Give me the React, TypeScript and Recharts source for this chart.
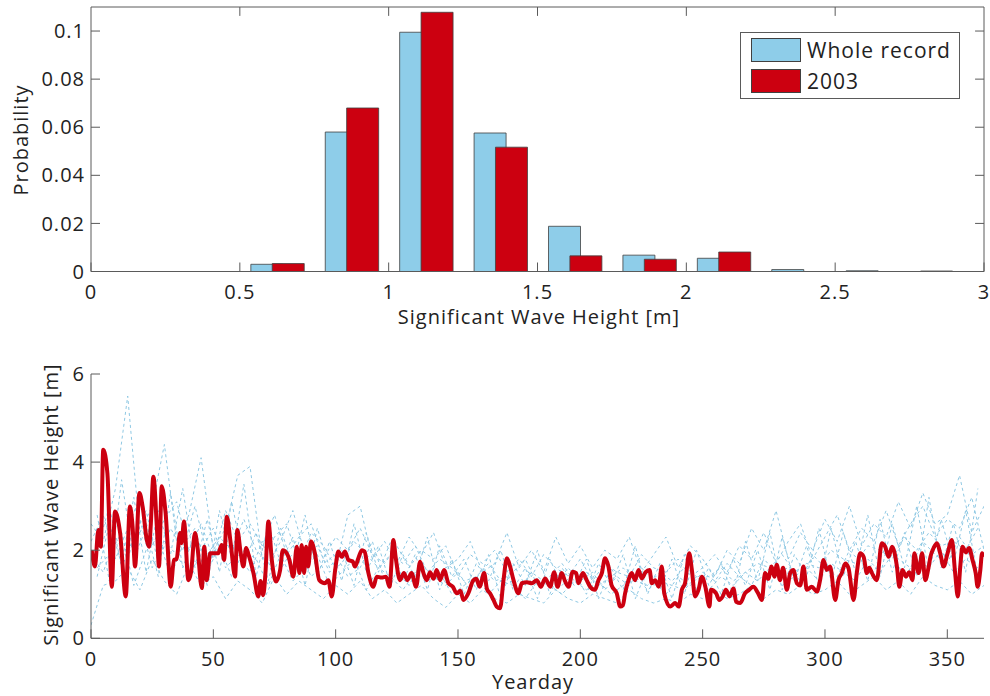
import React from 'react';
import { BarChart, Bar, XAxis, YAxis, LineChart, Line, Legend, Label, ReferenceLine } from 'recharts';

// ---------------- Histogram data (top panel) ----------------
const BIN_CENTERS = [0.625, 0.875, 1.125, 1.375, 1.625, 1.875, 2.125, 2.375, 2.625, 2.875];
const PROB_WHOLE = [0.003, 0.058, 0.0995, 0.0576, 0.0188, 0.0068, 0.0055, 0.0008, 0.0003, 0.0002];
const PROB_2003 = [0.0033, 0.068, 0.1078, 0.0517, 0.0065, 0.0051, 0.0081, 0, 0, 0];
const HIST_X_TICKS = [0, 0.5, 1, 1.5, 2, 2.5, 3];
const HIST_Y_TICKS = [0, 0.02, 0.04, 0.06, 0.08, 0.1];
const HIST_X_MAX = 3;
const HIST_Y_MAX = 0.11;

// ---------------- Time series data (bottom panel) ----------------
const YEARDAY_TICKS = [0, 50, 100, 150, 200, 250, 300, 350];
const HS_TICKS = [0, 2, 4, 6];

const BG_DAYS = [
  0, 5, 10, 15, 20, 25, 30, 35, 40, 45,
  50, 55, 60, 65, 70, 75, 80, 85, 90, 95,
  100, 105, 110, 115, 120, 125, 130, 135, 140, 145,
  150, 155, 160, 165, 170, 175, 180, 185, 190, 195,
  200, 205, 210, 215, 220, 225, 230, 235, 240, 245,
  250, 255, 260, 265, 270, 275, 280, 285, 290, 295,
  300, 305, 310, 315, 320, 325, 330, 335, 340, 345,
  350, 355, 360, 365,
];
const BG_DAYS_MID = [
  2.5, 7.5, 12.5, 17.5, 22.5, 27.5, 32.5, 37.5, 42.5, 47.5,
  52.5, 57.5, 62.5, 67.5, 72.5, 77.5, 82.5, 87.5, 92.5, 97.5,
  102.5, 107.5, 112.5, 117.5, 122.5, 127.5, 132.5, 137.5, 142.5, 147.5,
  152.5, 157.5, 162.5, 167.5, 172.5, 177.5, 182.5, 187.5, 192.5, 197.5,
  202.5, 207.5, 212.5, 217.5, 222.5, 227.5, 232.5, 237.5, 242.5, 247.5,
  252.5, 257.5, 262.5, 267.5, 272.5, 277.5, 282.5, 287.5, 292.5, 297.5,
  302.5, 307.5, 312.5, 317.5, 322.5, 327.5, 332.5, 337.5, 342.5, 347.5,
  352.5, 357.5, 362.5,
];
const BG_YEAR_A = [
  2.6, 2.2, 3.4, 5.5, 2.4, 3.0, 4.4, 2.2, 2.8, 4.1,
  2.0, 2.5, 3.7, 3.9, 1.8, 2.3, 2.6, 1.7, 2.4, 2.1,
  1.6, 2.8, 3.0, 1.8, 2.2, 1.7, 2.3, 1.9, 2.4, 1.6,
  1.8, 2.2, 1.5, 1.7, 2.4, 1.6, 2.0, 1.5, 2.3, 1.7,
  2.1, 1.6, 2.0, 1.8, 2.3, 1.5, 1.9, 2.3, 1.6, 2.1,
  1.8, 1.4, 2.0, 1.7, 2.5, 2.0, 2.9, 1.8, 2.4, 2.0,
  2.7, 2.2, 3.0, 2.1, 2.6, 2.3, 3.1, 2.5, 3.3, 2.6,
  2.8, 3.7, 2.4, 3.0,
];
const BG_YEAR_B = [
  1.9, 1.5, 2.3, 1.8, 2.7, 1.6, 2.2, 1.9, 1.4, 2.0,
  2.5, 1.6, 1.9, 1.5, 2.2, 1.3, 1.8, 2.0, 1.4, 1.7,
  1.9, 1.4, 1.6, 2.2, 1.3, 1.5, 1.2, 1.7, 1.4, 1.2,
  1.5, 1.1, 1.6, 1.3, 1.4, 1.1, 1.5, 1.3, 1.2, 1.6,
  1.3, 1.5, 1.1, 1.4, 1.2, 1.6, 1.3, 1.0, 1.4, 1.2,
  1.5, 1.3, 1.7, 1.4, 1.2, 1.8, 1.5, 1.6, 1.3, 1.9,
  1.6, 1.4, 2.0, 1.7, 1.5, 2.1, 1.8, 1.6, 2.2, 1.9,
  1.7, 2.3, 1.9, 2.1,
];
const BG_YEAR_C = [
  0.3, 1.2, 1.3, 1.6, 1.1, 1.8, 1.3, 1.0, 1.7, 1.2,
  1.4, 0.9, 1.3, 1.1, 0.8, 1.4, 1.0, 1.3, 1.1, 0.9,
  1.2, 1.0, 1.3, 0.9, 1.1, 0.8, 1.0, 1.2, 0.9, 0.7,
  1.0, 0.8, 1.1, 0.9, 0.8, 1.0, 0.9, 0.8, 1.1, 0.9,
  0.8, 1.0, 0.9, 0.8, 1.1, 0.9, 0.8, 0.9, 0.8, 1.0,
  0.9, 1.1, 0.9, 1.0, 1.2, 0.9, 1.1, 1.0, 1.2, 1.0,
  1.1, 1.3, 1.0, 1.2, 1.4, 1.1, 1.3, 1.0, 1.4, 1.2,
  1.1, 1.3, 1.0, 1.2,
];
const BG_YEAR_D = [
  2.2, 2.8, 1.8, 2.5, 3.2, 2.1, 2.7, 3.1, 2.0, 2.6,
  1.8, 2.9, 2.2, 2.6, 2.1, 2.8, 1.9, 2.3, 2.6, 1.8,
  2.3, 2.0, 2.5, 1.9, 1.7, 2.1, 1.6, 2.0, 1.8, 2.1,
  1.4, 1.9, 1.7, 2.0, 1.5, 1.8, 1.4, 1.9, 1.6, 1.4,
  1.8, 1.3, 1.7, 1.5, 1.4, 1.9, 1.6, 1.5, 1.8, 1.4,
  1.6, 1.9, 1.5, 2.1, 1.8, 2.4, 1.7, 2.2, 2.6, 1.8,
  2.3, 2.8, 2.0, 2.5, 2.2, 2.9, 2.1, 2.6, 3.0, 2.3,
  2.7, 2.5, 3.2, 2.0,
];
const BG_YEAR_E = [
  1.4, 2.6, 1.7, 3.2, 1.5, 2.9, 1.9, 3.4, 1.6, 2.7,
  1.5, 3.1, 1.7, 2.4, 1.3, 2.5, 1.6, 2.8, 1.4, 2.2,
  1.3, 2.6, 1.5, 2.1, 1.2, 1.9, 1.4, 2.3, 1.1, 1.8,
  1.0, 1.7, 1.3, 2.0, 1.1, 1.6, 0.9, 1.8, 1.2, 1.5,
  1.0, 1.7, 1.2, 1.9, 0.9, 1.6, 1.1, 1.8, 1.0, 2.0,
  1.2, 1.7, 1.0, 2.2, 1.3, 2.4, 1.1, 1.9, 1.4, 2.5,
  1.3, 2.4, 1.5, 2.8, 1.4, 2.6, 1.6, 3.0, 1.5, 2.7,
  1.7, 2.9, 1.4,
];
const BG_YEAR_F = [
  2.8, 1.3, 3.6, 1.8, 2.5, 1.4, 3.3, 1.6, 2.4, 1.2,
  2.9, 1.8, 3.5, 1.4, 2.6, 1.7, 2.3, 1.2, 2.5, 1.6,
  2.0, 1.2, 2.4, 1.5, 2.2, 1.3, 1.9, 1.1, 2.1, 1.4,
  1.8, 1.1, 1.9, 0.9, 1.7, 1.2, 2.0, 1.0, 1.6, 1.2,
  1.8, 0.9, 1.6, 1.1, 2.1, 1.0, 1.7, 0.9, 1.9, 1.1,
  1.6, 1.0, 1.8, 1.2, 2.0, 1.1, 2.3, 1.3, 2.1, 1.2,
  2.5, 1.4, 2.2, 1.3, 2.7, 1.5, 2.4, 1.4, 3.2, 1.6,
  2.6, 1.5, 3.4,
];
const BG_YEAR_G = [
  2.0, 3.0, 1.6, 2.3, 2.9, 1.7, 2.5, 2.0, 3.0, 1.9,
  2.3, 2.0, 2.7, 2.0, 1.7, 2.2, 2.9, 1.9, 2.1, 1.5,
  1.7, 2.2, 1.9, 1.6, 1.9, 1.7, 2.1, 1.5, 1.8, 1.6,
  1.3, 1.4, 1.7, 1.3, 1.5, 1.8, 1.2, 1.4, 1.7, 1.3,
  1.5, 1.2, 1.4, 1.6, 1.3, 1.2, 1.5, 1.3, 1.6, 1.4,
  1.4, 1.6, 1.3, 1.5, 1.7, 1.6, 1.9, 1.5, 1.7, 1.6,
  2.0, 1.8, 1.7, 2.1, 2.0, 1.8, 2.3, 2.0, 2.4, 2.1,
  2.2, 2.0, 2.5,
];
const BG_YEAR_H = [
  1.6, 1.9, 2.4, 1.2, 2.0, 2.3, 1.4, 2.1, 2.5, 1.5,
  2.1, 1.4, 2.0, 1.8, 1.2, 1.9, 1.3, 1.6, 1.9, 1.2,
  1.5, 1.8, 1.1, 1.6, 1.4, 1.1, 1.5, 1.3, 1.5, 1.0,
  1.2, 1.4, 1.0, 1.3, 1.2, 0.9, 1.3, 1.2, 1.0, 1.3,
  1.1, 1.3, 1.0, 1.2, 1.4, 1.1, 1.3, 1.2, 1.1, 1.4,
  1.1, 1.4, 1.2, 1.5, 1.3, 1.6, 1.2, 1.4, 1.6, 1.3,
  1.7, 1.5, 1.3, 1.8, 1.5, 1.9, 1.4, 1.8, 1.6, 2.0,
  1.5, 1.8, 1.6,
];

// 2003 record: [yearday, significant wave height]
const HS_2003: [number, number][] = [
  [0.3, 2.0], [1.6, 1.63], [3, 2.46], [4, 2.08], [5, 4.28], [6.7, 3.75], [8.5, 1.17], [9.8, 2.88],
  [11.9, 2.39], [14.2, 0.95], [15.9, 2.99], [17, 2.54], [18, 1.63], [19.8, 3.3], [21.1, 2.99], [22.8, 2.23],
  [23.8, 2.08], [24.4, 2.54], [25.5, 3.67], [26.9, 2.54], [27.8, 1.63], [28.9, 3.45], [30.5, 2.84], [32.6, 1.17],
  [33.9, 1.78], [35, 1.8], [36.4, 2.39], [37, 2.16], [38, 2.65], [39.8, 1.32], [40.9, 1.5], [42.5, 2.39],
  [43.5, 2.08], [45.3, 1.14], [46.3, 2.08], [47.3, 1.32], [48.7, 1.93], [52, 1.93], [53.4, 2.12], [54.4, 1.78],
  [55.5, 2.76], [57.1, 2.16], [58.9, 1.4], [59.8, 2.46], [61.2, 1.93], [62.3, 1.63], [63.4, 2.05], [64.4, 1.9],
  [66.4, 1.48], [68.4, 0.95], [69.3, 1.3], [70.4, 0.98], [71.3, 1.48], [72.5, 2.65], [73.9, 1.78], [75.6, 1.29],
  [77.3, 1.55], [78.4, 2.0], [80, 1.93], [81.1, 1.78], [82.7, 1.4], [84.1, 2.08], [85.2, 1.48], [86.1, 2.12],
  [87.1, 1.48], [87.9, 2.08], [88.8, 1.63], [89.9, 2.2], [91.5, 1.93], [93.3, 1.32], [95.6, 1.25], [97, 1.32],
  [98.4, 0.95], [99.8, 1.55], [101.1, 1.97], [102.5, 1.85], [103.8, 1.97], [105.2, 1.78], [107, 1.74], [107.9, 1.63],
  [109.3, 1.82], [110.7, 2.0], [111.8, 1.97], [113.4, 1.48], [115.4, 1.17], [116.8, 1.4], [118.8, 1.38], [120.6, 1.4],
  [122, 1.17], [123.6, 2.23], [124.5, 1.85], [126.3, 1.32], [127.9, 1.48], [129.3, 1.32], [131, 1.48], [132.9, 1.17],
  [134.5, 1.74], [135.9, 1.48], [137.2, 1.32], [138.6, 1.5], [140, 1.35], [141.3, 1.55], [142.7, 1.32], [144.3, 1.55],
  [146.1, 1.25], [147.9, 1.17], [149.5, 1.02], [151, 1.08], [152.2, 0.87], [154.2, 1.02], [156.3, 1.32], [157.5, 1.35],
  [158.8, 1.17], [160.7, 1.48], [161.8, 1.13], [163.1, 1.02], [164.5, 0.87], [165.8, 0.72], [167.2, 0.68], [168.6, 1.32],
  [170, 1.82], [171.3, 1.63], [172.7, 1.32], [174.7, 1.02], [176.1, 1.25], [178.2, 1.27], [180.2, 1.25], [182.2, 1.32],
  [183.9, 1.17], [185.6, 1.36], [187.7, 1.17], [189.3, 1.5], [190.7, 1.17], [192.4, 1.48], [193.8, 1.29], [195.2, 1.17],
  [196.9, 1.51], [198.3, 1.48], [199.2, 1.25], [201, 1.48], [202.6, 1.32], [204, 1.17], [206, 1.1], [207.4, 1.32],
  [208.8, 1.48], [210.1, 1.82], [211.5, 1.63], [212.8, 1.2], [214.9, 1.02], [216.3, 0.72], [217.4, 0.75], [218.3, 1.02],
  [219.7, 1.32], [221, 1.48], [222.4, 1.32], [223.8, 1.55], [225.1, 1.36], [226.7, 1.5], [228.3, 1.55], [229.2, 1.25],
  [230.6, 1.32], [232, 1.17], [233.3, 1.63], [234.3, 1.02], [236.7, 0.72], [238.8, 0.8], [240.2, 0.72], [241.5, 1.1],
  [242.8, 1.25], [244.5, 1.93], [245.6, 1.55], [246.9, 0.95], [248.3, 1.1], [249.7, 1.4], [251.1, 1.17], [252.8, 0.72],
  [253.4, 1.1], [255.5, 1.02], [256.8, 0.87], [258.2, 0.95], [259.5, 1.1], [261, 0.95], [262.6, 1.13], [263.7, 0.83],
  [265.4, 0.8], [267.3, 1.02], [269, 1.1], [270.7, 1.17], [272.7, 1.02], [274.2, 0.87], [275.5, 1.48], [276.8, 1.35],
  [278.2, 1.63], [279.3, 1.4], [280.3, 1.67], [281.6, 1.32], [282.9, 1.6], [284.4, 1.1], [285.8, 1.48], [287.1, 1.55],
  [288.5, 1.25], [289.9, 1.2], [291.2, 1.63], [292.6, 1.1], [294.6, 1.17], [296.7, 1.06], [298, 1.32], [299.4, 1.78],
  [300.7, 1.55], [302.1, 1.63], [304.2, 0.87], [305.5, 1.32], [306.9, 1.48], [308.3, 1.7], [309.6, 1.6], [311.7, 0.87],
  [313, 1.48], [314.4, 1.93], [315.8, 1.85], [317.1, 1.48], [318.1, 1.6], [319.2, 1.48], [321.2, 1.32], [323.2, 2.16],
  [324.6, 2.08], [326, 1.85], [327.4, 2.08], [329.4, 1.63], [330.4, 1.17], [331.7, 1.55], [333.1, 1.4], [334.4, 1.5],
  [335.8, 1.32], [336.5, 1.93], [338.3, 1.48], [339.7, 1.93], [341, 1.32], [342.4, 1.63], [343.1, 1.85], [344.4, 2.05],
  [345.8, 2.16], [347.1, 1.93], [348.5, 1.63], [350.1, 1.93], [351.9, 2.23], [353.2, 1.48], [354.3, 0.95], [355.3, 1.63],
  [356.2, 2.08], [357.6, 1.95], [358.9, 2.05], [360.3, 1.78], [361.6, 1.48], [362.4, 1.17], [363.5, 1.55], [364.2, 1.93],
  [365, 1.85],
];

// ---------------- Styles ----------------
const FONT = '"Open Sans", "DejaVu Sans", sans-serif';
const AXIS = '#5a5a5a';
const TEXT = '#222222';
const BLUE_FILL = '#8ecde9';
const RED = '#cc0010';
const BG_LINE = '#8fc8e3';

// Inward tick length of the box edges, in data units (≈9 px)
const TOP_TICK_LEN = 0.0037;
const RIGHT_TICK_LEN = 0.03;

const histData = BIN_CENTERS.map((x, i) => ({ x, whole: PROB_WHOLE[i], y2003: PROB_2003[i] }));
const redData = HS_2003.map(([day, hs]) => ({ day, hs }));
const bgSeries = [
  ...[BG_YEAR_A, BG_YEAR_B, BG_YEAR_C, BG_YEAR_D].map((vals) => BG_DAYS.map((day, i) => ({ day, hs: vals[i] }))),
  ...[BG_YEAR_E, BG_YEAR_F, BG_YEAR_G, BG_YEAR_H].map((vals) => BG_DAYS_MID.map((day, i) => ({ day, hs: vals[i] }))),
];

const tickStyle = { fill: TEXT, fontSize: 20, fontFamily: FONT };

const xTitle = (text: string, dx: number, gap: number) => (props: any) => {
  const vb = props.viewBox || { x: 91, y: 0, width: 893, height: 30 };
  const cx = vb.x + vb.width / 2 + dx;
  const by = vb.y + vb.height + gap;
  return (
    <text x={cx} y={by} textAnchor="middle" fill={TEXT} fontSize={20} fontFamily={FONT} style={{ letterSpacing: '1px' }}>
      {text}
    </text>
  );
};

const yTitle = (text: string, fromAxis: number, dy: number) => (props: any) => {
  const vb = props.viewBox || { x: 31, y: 0, width: 60, height: 264 };
  const bx = vb.x + vb.width - fromAxis;
  const cy = vb.y + vb.height / 2 + dy;
  return (
    <text
      x={bx}
      y={cy}
      transform={`rotate(-90 ${bx} ${cy})`}
      textAnchor="middle"
      fill={TEXT}
      fontSize={20}
      fontFamily={FONT}
      style={{ letterSpacing: '1px' }}
    >
      {text}
    </text>
  );
};

const LegendBox = () => {
  const items = [
    { value: 'Whole record', color: BLUE_FILL },
    { value: '2003', color: RED },
  ];
  return (
    <div
      style={{
        position: 'relative',
        width: 220,
        height: 67,
        border: `1px solid ${AXIS}`,
        boxSizing: 'border-box',
        background: '#fff',
        fontFamily: FONT,
      }}
    >
      {items.map((it, i) => (
        <React.Fragment key={it.value}>
          <div
            style={{
              position: 'absolute',
              left: 10,
              top: 5 + i * 31,
              width: 50,
              height: 24,
              boxSizing: 'border-box',
              background: it.color,
              border: '1px solid #404040',
            }}
          />
          <div
            style={{
              position: 'absolute',
              left: 66,
              top: 4 + i * 31,
              height: 26,
              lineHeight: '26px',
              fontSize: 21,
              color: TEXT,
              letterSpacing: '1px',
              whiteSpace: 'nowrap',
            }}
          >
            {it.value}
          </div>
        </React.Fragment>
      ))}
    </div>
  );
};

export default function App() {
  return (
    <div style={{ position: 'absolute', left: 0, top: 0, width: 990, height: 696, background: '#fff', fontFamily: FONT }}>
      <style>{`.recharts-cartesian-axis-tick-value { letter-spacing: 1px; }`}</style>
      <div style={{ position: 'absolute', left: 0, top: 0 }}>
        <BarChart
          width={990}
          height={340}
          data={histData}
          margin={{ top: 7, right: 6, bottom: 38.5, left: 31 }}
          barSize={32}
          barGap={-10.6}
        >
          <XAxis
            type="number"
            dataKey="x"
            domain={[0, HIST_X_MAX]}
            ticks={HIST_X_TICKS}
            allowDataOverflow
            interval={0}
            height={30}
            tickSize={-9}
            tickMargin={22.5}
            axisLine={{ stroke: AXIS }}
            tickLine={{ stroke: AXIS }}
            tick={tickStyle}
          >
            <Label content={xTitle('Significant Wave Height [m]', 1.5, 22)} />
          </XAxis>
          <YAxis
            type="number"
            domain={[0, HIST_Y_MAX]}
            ticks={HIST_Y_TICKS}
            allowDataOverflow
            interval={0}
            width={60}
            tickSize={-9}
            tickMargin={15}
            axisLine={{ stroke: AXIS }}
            tickLine={{ stroke: AXIS }}
            tick={tickStyle}
          >
            <Label content={yTitle('Probability', 62.7, 0.75)} />
          </YAxis>
          <Bar
            dataKey="whole"
            name="Whole record"
            fill={BLUE_FILL}
            stroke="#404040"
            strokeWidth={0.8}
            isAnimationActive={false}
          />
          <Bar
            dataKey="y2003"
            name="2003"
            fill={RED}
            stroke="#404040"
            strokeWidth={0.8}
            isAnimationActive={false}
          />
          {/* box: top and right edges with inward ticks */}
          <ReferenceLine y={HIST_Y_MAX} stroke={AXIS} ifOverflow="visible" />
          <ReferenceLine x={HIST_X_MAX} stroke={AXIS} ifOverflow="visible" />
          {HIST_X_TICKS.slice(1, -1).map((t) => (
            <ReferenceLine
              key={`tt${t}`}
              segment={[
                { x: t, y: HIST_Y_MAX },
                { x: t, y: HIST_Y_MAX - TOP_TICK_LEN },
              ]}
              stroke={AXIS}
              ifOverflow="visible"
            />
          ))}
          {HIST_Y_TICKS.slice(1).map((t) => (
            <ReferenceLine
              key={`rt${t}`}
              segment={[
                { x: HIST_X_MAX, y: t },
                { x: HIST_X_MAX - RIGHT_TICK_LEN, y: t },
              ]}
              stroke={AXIS}
              ifOverflow="visible"
            />
          ))}
          <Legend
            layout="vertical"
            align="center"
            verticalAlign="middle"
            wrapperStyle={{ left: 740, top: 32, width: 220, height: 67 }}
            content={<LegendBox />}
          />
        </BarChart>
      </div>
      <div style={{ position: 'absolute', left: 0, top: 340 }}>
        <LineChart width={990} height={356} margin={{ top: 34, right: 6, bottom: 27.7, left: 31 }}>
          <XAxis
            type="number"
            dataKey="day"
            domain={[0, 365]}
            ticks={YEARDAY_TICKS}
            allowDataOverflow
            interval={0}
            height={30}
            tickSize={-9}
            tickMargin={22.5}
            axisLine={{ stroke: AXIS }}
            tickLine={{ stroke: AXIS }}
            tick={tickStyle}
          >
            <Label content={xTitle('Yearday', -4.5, 21)} />
          </XAxis>
          <YAxis
            type="number"
            dataKey="hs"
            domain={[0, 6]}
            ticks={HS_TICKS}
            allowDataOverflow
            interval={0}
            width={60}
            tickSize={-9}
            tickMargin={15}
            axisLine={{ stroke: AXIS }}
            tickLine={{ stroke: AXIS }}
            tick={tickStyle}
          >
            <Label content={yTitle('Significant Wave Height [m]', 32.5, -1.5)} />
          </YAxis>
          {bgSeries.map((data, i) => (
            <Line
              key={`bg${i}`}
              data={data}
              dataKey="hs"
              type="linear"
              stroke={BG_LINE}
              strokeWidth={1}
              strokeDasharray="3 3"
              dot={false}
              activeDot={false}
              isAnimationActive={false}
            />
          ))}
          <Line
            data={redData}
            dataKey="hs"
            type="monotone"
            stroke={RED}
            strokeWidth={4}
            strokeLinejoin="round"
            dot={false}
            activeDot={false}
            isAnimationActive={false}
          />
        </LineChart>
      </div>
    </div>
  );
}
